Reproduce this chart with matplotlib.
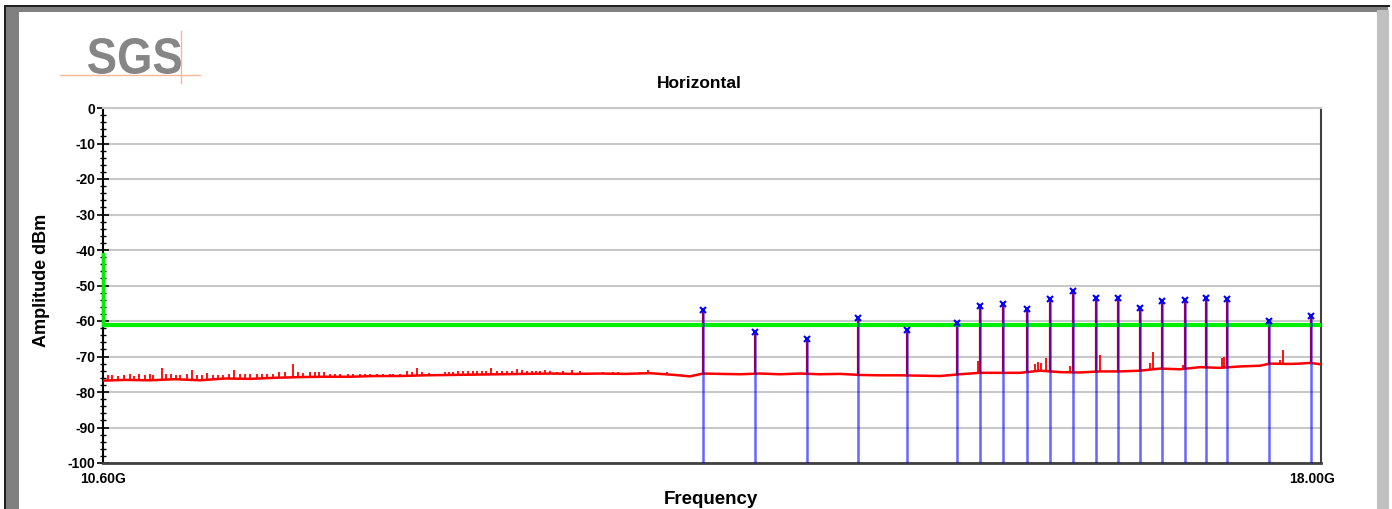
import numpy as np
import matplotlib
matplotlib.use("Agg")
import matplotlib.pyplot as plt
from matplotlib.patches import Rectangle, PathPatch
from matplotlib.lines import Line2D
from matplotlib.textpath import TextPath
from matplotlib.font_manager import FontProperties
from matplotlib.transforms import Affine2D, IdentityTransform

plt.rcParams['font.family'] = ['Liberation Sans', 'DejaVu Sans']
plt.rcParams['axes.unicode_minus'] = False

# noise floor of the trace (GHz, dBm)
floor_f = [10.600, 10.734, 10.886, 11.037, 11.189, 11.341, 11.493, 11.645, 11.797, 11.949,
           12.101, 12.253, 12.404, 12.556, 12.708, 12.860, 13.012, 13.164, 13.316, 13.468,
           13.620, 13.771, 13.923, 14.075, 14.166, 14.245, 14.349, 14.470, 14.592, 14.713,
           14.835, 14.956, 15.078, 15.199, 15.321, 15.442, 15.564, 15.685, 15.807, 15.928,
           16.050, 16.171, 16.293, 16.414, 16.536, 16.657, 16.779, 16.900, 17.022, 17.143,
           17.265, 17.386, 17.508, 17.629, 17.690, 17.811, 17.872, 17.933, 18.000]
floor_db = [-76.8, -76.6, -76.7, -76.4, -76.7, -76.2, -76.3, -76.0, -75.8, -75.7,
            -75.7, -75.5, -75.5, -75.3, -75.2, -75.1, -75.0, -74.9, -74.8, -74.9,
            -74.8, -74.9, -74.7, -75.2, -75.6, -74.8, -74.9, -75.0, -74.8, -75.0,
            -74.8, -75.0, -74.9, -75.2, -75.3, -75.3, -75.4, -75.5, -75.0, -74.6,
            -74.6, -74.6, -74.0, -74.4, -74.5, -74.2, -74.2, -74.0, -73.4, -73.6,
            -73.0, -73.2, -72.8, -72.6, -72.0, -72.1, -72.0, -71.8, -72.2]

# small spurs on the trace
spur_f = [10.632, 10.657, 10.693, 10.728, 10.764, 10.790, 10.821, 10.855, 10.886, 10.906,
          10.957, 10.981, 11.013, 11.042, 11.068, 11.109, 11.143, 11.169, 11.200, 11.234,
          11.270, 11.300, 11.331, 11.367, 11.398, 11.432, 11.463, 11.493, 11.534, 11.564,
          11.595, 11.635, 11.669, 11.706, 11.756, 11.787, 11.817, 11.858, 11.888, 11.914,
          11.943, 11.979, 12.010, 12.040, 12.090, 12.121, 12.161, 12.192, 12.222, 12.263,
          12.303, 12.344, 12.364, 12.404, 12.445, 12.476, 12.510, 12.536, 12.582, 12.647,
          12.678, 12.704, 12.728, 12.759, 12.789, 12.816, 12.846, 12.874, 12.901, 12.927,
          12.955, 12.992, 13.022, 13.053, 13.083, 13.117, 13.144, 13.174, 13.205, 13.231,
          13.255, 13.285, 13.316, 13.356, 13.393, 13.448, 13.498, 13.579, 13.640, 13.700,
          13.731, 13.802, 13.863, 13.913, 14.025,
          15.916, 16.262, 16.281, 16.299, 16.327, 16.475, 16.657, 16.961, 16.979, 17.161,
          17.399, 17.411, 17.751, 17.769]
spur_db = [-75.3, -75.3, -75.5, -75.3, -75.0, -75.4, -75.0, -75.2, -75.0, -75.3,
           -73.3, -75.0, -74.8, -75.2, -75.2, -75.0, -73.8, -75.2, -75.2, -74.6,
           -75.3, -75.3, -75.3, -75.0, -73.8, -75.0, -75.0, -75.0, -75.0, -75.0,
           -74.8, -75.0, -74.5, -74.5, -72.2, -74.5, -74.6, -74.3, -74.3, -74.5,
           -74.3, -74.8, -74.8, -74.8, -74.8, -74.8, -74.8, -74.8, -75.0, -75.0,
           -75.0, -74.8, -74.9, -74.9, -74.0, -74.5, -73.2, -74.5, -74.7, -74.8,
           -74.5, -74.3, -74.3, -74.2, -74.2, -74.2, -74.2, -74.2, -74.0, -74.0,
           -73.2, -74.2, -74.2, -74.2, -74.0, -73.5, -73.8, -74.0, -74.0, -74.0,
           -74.0, -73.8, -74.0, -74.3, -74.0, -73.8, -74.2, -74.6, -74.4, -74.4,
           -74.3, -74.6, -74.5, -73.8, -74.5,
           -71.2, -72.0, -71.6, -71.9, -70.4, -72.8, -69.7, -71.8, -68.6, -72.5,
           -70.5, -70.0, -71.0, -68.2]

# marked peaks
peak_f = [14.245, 14.561, 14.877, 15.187, 15.485, 15.789, 15.928, 16.068, 16.214, 16.354,
          16.494, 16.633, 16.767, 16.900, 17.034, 17.174, 17.302, 17.430, 17.684, 17.939]
peak_db = [-57.0, -63.1, -65.0, -59.2, -62.5, -60.6, -55.7, -55.2, -56.7, -53.8,
           -51.6, -53.5, -53.5, -56.4, -54.4, -54.2, -53.5, -53.8, -60.0, -58.6]

limit_db = -61.2
yticks = [0, -10, -20, -30, -40, -50, -60, -70, -80, -90, -100]

W, H = 1392, 509
fig = plt.figure(figsize=(W / 100, H / 100), dpi=100)


def box(x, y, w, h, color):
    # pixel box (top-left origin) to figure fraction
    fig.add_artist(Rectangle((x / W, 1 - (y + h) / H), w / W, h / H,
                             transform=fig.transFigure, color=color, lw=0))


def line(xs, ys, color, lw):
    fig.add_artist(Line2D([x / W for x in xs], [1 - y / H for y in ys],
                          transform=fig.transFigure, color=color, lw=lw))


# window frame
box(4, 5, 1386, 2, '#202020')
box(6, 7, 1382, 4.5, '#808080')
box(4, 5, 2, 504, '#202020')
box(6, 7, 13, 502, '#808080')
box(1377, 10, 12, 499, '#c0c0c0')

# logo, squeezed into its box
tp = TextPath((0, 0), 'SGS', size=1, prop=FontProperties(family='Liberation Sans', weight='bold'))
ext = tp.get_extents()
x0, x1, y0, y1 = 88, 181, 38, 74
tr = (Affine2D().translate(-ext.x0, -ext.y0)
      .scale((x1 - x0) / ext.width, (y1 - y0) / ext.height)
      .translate(x0, H - y1))
fig.add_artist(PathPatch(tr.transform_path(tp), transform=IdentityTransform(),
                         color='#868686', lw=0))
line([60, 200], [74.5, 74.5], '#f5b896', 1.0)
line([181, 181], [31, 83], '#f5b896', 1.0)

ax = fig.add_axes([103 / W, 1 - 463 / H, (1321 - 103) / W, (463 - 108) / H])
ax.set_xlim(10.6, 18.0)
ax.set_ylim(-100, 0)

ax.set_yticks(yticks)
ax.set_yticks(np.arange(-100, 1, 2), minor=True)
ax.set_xticks([])
ax.yaxis.grid(True, color='#c8c8c8', lw=1.5)
ax.set_axisbelow(True)
ax.tick_params(axis='y', which='major', direction='inout', length=9, width=1.2,
               labelsize=10, pad=1)
ax.tick_params(axis='y', which='minor', direction='inout', length=5, width=1.0)
for lab in ax.get_yticklabels():
    lab.set_fontweight('bold')

ax.spines['top'].set_color('#c8c8c8')
ax.spines['top'].set_linewidth(1.5)
ax.spines['right'].set_color('#404040')
ax.spines['right'].set_linewidth(1.5)
ax.spines['bottom'].set_color('#404040')
ax.spines['bottom'].set_linewidth(2)
ax.spines['left'].set_color('black')
ax.spines['left'].set_linewidth(1.5)

# trace
ax.plot(floor_f, floor_db, color='red', lw=1.8, zorder=3)
spur_base = np.interp(spur_f, floor_f, floor_db)
ax.vlines(spur_f, spur_base, spur_db, color='red', lw=1.3, zorder=3)
peak_base = np.interp(peak_f, floor_f, floor_db)
ax.vlines(peak_f, peak_base, peak_db, color='red', lw=1.6, zorder=3)

# limit line
ax.plot([10.6, 18.0], [limit_db, limit_db], color='#00ee00', lw=3, zorder=4,
        solid_capstyle='butt')
ax.plot([10.6, 10.6], [-41, limit_db], color='#00ee00', lw=2.5, zorder=4, clip_on=False)

# markers
ax.vlines(peak_f, -100, peak_db, color='#0000ff', lw=1.8, alpha=0.6, zorder=5)
ax.plot(peak_f, peak_db, 'x', color='#0000ff', ms=5, mew=1.5, zorder=6)

ax.text(0, -0.025, '10.60G', transform=ax.transAxes, ha='center', va='top',
        fontsize=10, fontweight='bold')
ax.text(0.993, -0.025, '18.00G', transform=ax.transAxes, ha='center', va='top',
        fontsize=10, fontweight='bold')

fig.text(699 / W, 1 - 83 / H, 'Horizontal', ha='center', va='center',
         fontsize=12.5, fontweight='bold')
fig.text(711 / W, 1 - 499 / H, 'Frequency', ha='center', va='center',
         fontsize=13.5, fontweight='bold')
fig.text(41 / W, 1 - 280 / H, 'Amplitude dBm', ha='center', va='center',
         rotation=90, fontsize=13, fontweight='bold')

fig.savefig('out.png', dpi=100)
